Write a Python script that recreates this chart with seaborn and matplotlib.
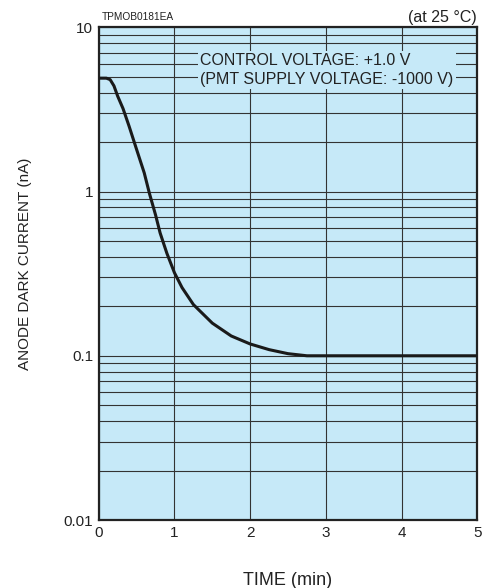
import matplotlib
matplotlib.use("Agg")
import matplotlib.pyplot as plt
import seaborn as sns
import numpy as np
import pandas as pd
from matplotlib.ticker import LogLocator, FixedLocator, NullFormatter

# curve
time_min = [0.0, 0.10, 0.15, 0.20, 0.25, 0.32, 0.40, 0.50, 0.60, 0.67, 0.75, 0.81, 0.90, 1.00,
            1.10, 1.25, 1.50, 1.75, 2.00, 2.25, 2.50, 2.75, 3.00, 4.00, 5.00]
dark_current = [4.9, 4.9, 4.8, 4.4, 3.8, 3.2, 2.5, 1.8, 1.3, 0.97, 0.72, 0.56, 0.42, 0.32,
                0.26, 0.205, 0.158, 0.132, 0.118, 0.109, 0.103, 0.100, 0.100, 0.100, 0.100]
x_ticks = [0, 1, 2, 3, 4, 5]
y_ticks = [0.01, 0.1, 1, 10]
y_tick_labels = ["0.01", "0.1", "1", "10"]

sns.set_style("white")
plt.rcParams['font.family'] = ['Liberation Sans', 'DejaVu Sans']

bg = '#c6e9f8'
df = pd.DataFrame({'t': time_min, 'i': dark_current})

fig = plt.figure(figsize=(4.82, 5.88), dpi=100)
ax = fig.add_axes([0.205, 0.1156, 0.785, 0.838])
ax.set_facecolor(bg)

sns.lineplot(data=df, x='t', y='i', ax=ax, color='#1a1a1a', lw=2.2, zorder=3)

ax.set_yscale('log')
ax.set_xlim(0, 5)
ax.set_ylim(0.01, 10)

ax.xaxis.set_major_locator(FixedLocator(x_ticks))
ax.yaxis.set_major_locator(FixedLocator(y_ticks))
ax.set_yticklabels(y_tick_labels)
ax.yaxis.set_minor_locator(LogLocator(base=10, subs=np.arange(2, 10)))
ax.yaxis.set_minor_formatter(NullFormatter())

ax.grid(True, which='major', axis='both', color='#333333', lw=0.8, zorder=1)
ax.grid(True, which='minor', axis='y', color='#333333', lw=0.8, zorder=1)
ax.set_axisbelow(True)

ax.tick_params(axis='both', which='both', length=0, labelsize=11, colors='#222222', pad=4)
for s in ax.spines.values():
    s.set_color('#222222')
    s.set_linewidth(1.6)

ax.set_xlabel('TIME (min)', fontsize=13, color='#222222', labelpad=23)
ax.set_ylabel('ANODE DARK CURRENT (nA)', fontsize=11, color='#222222')
# label sits a little above the axes centre in the reference
ax.yaxis.set_label_coords(-0.177, 0.519)

ax.text(0.008, 1.01, 'TPMOB0181EA', transform=ax.transAxes, fontsize=7.3, ha='left', va='bottom', color='#222222')
ax.text(1.0, 1.004, '(at 25 °C)', transform=ax.transAxes, fontsize=11.5, ha='right', va='bottom', color='#222222')

ax.text(0.268, 0.913, 'CONTROL VOLTAGE: +1.0 V\n(PMT SUPPLY VOLTAGE: -1000 V)', transform=ax.transAxes,
        fontsize=11.5, ha='left', va='center', multialignment='left', color='#222222',
        linespacing=1.3, zorder=4,
        bbox=dict(boxstyle='square,pad=0.15', fc=bg, ec='none'))

fig.savefig('out.png', dpi=100)
